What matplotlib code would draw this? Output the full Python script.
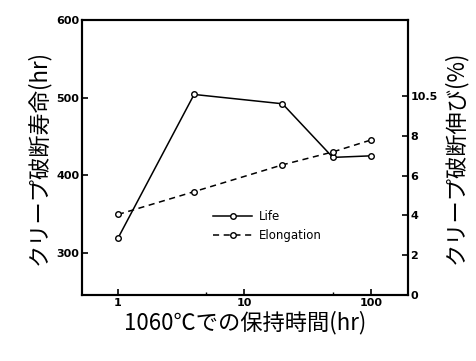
import matplotlib.pyplot as plt
from matplotlib.ticker import FixedLocator, NullFormatter

plt.rcParams['font.family'] = ['Noto Sans CJK JP', 'DejaVu Sans']

hold_time = [1, 4, 20, 50, 100]
life = [319, 504, 492, 423, 425]
elongation = [4.05, 5.2, 6.55, 7.2, 7.8]

left_ticks = [300, 400, 500, 600]
right_ticks = [0, 2, 4, 6, 8, 10]
right_labels = ['0', '2', '4', '6', '8', '10.5']

fig = plt.figure(figsize=(4.77, 3.61), dpi=100)
ax = fig.add_axes([0.172, 0.183, 0.683, 0.762])
ax2 = ax.twinx()

mk = dict(marker='o', markersize=4, markerfacecolor='white', markeredgecolor='black', markeredgewidth=1)
l1, = ax.plot(hold_time, life, '-', color='black', lw=1.1, label='Life', **mk)
l2, = ax2.plot(hold_time, elongation, '--', color='black', lw=1.1, label='Elongation', dashes=(4, 3), **mk)

ax.set_xscale('log')
ax.set_xlim(0.52, 196)
ax.set_ylim(246, 600)
ax2.set_ylim(0, 13.85)

ax.xaxis.set_major_locator(FixedLocator([1, 10, 100]))
ax.set_xticklabels(['1', '10', '100'])
ax.xaxis.set_minor_locator(FixedLocator([5, 50]))
ax.xaxis.set_minor_formatter(NullFormatter())
ax.set_yticks(left_ticks)
ax2.set_yticks(right_ticks)
ax2.set_yticklabels(right_labels)

for a in (ax, ax2):
    a.tick_params(direction='in', length=4, width=1.2, labelsize=8, pad=2)
    a.tick_params(which='minor', direction='in', length=2, width=1)
    for s in a.spines.values():
        s.set_linewidth(1.5)
for lab in ax.get_xticklabels() + ax.get_yticklabels() + ax2.get_yticklabels():
    lab.set_fontweight('bold')
    lab.set_family('DejaVu Sans')

ax.set_xlabel('1060℃での保持時間(hr)', fontsize=16, labelpad=2)
ax.set_ylabel('クリープ破断寿命(hr)', fontsize=16, labelpad=4)
ax2.set_ylabel('クリープ破断伸び(%)', fontsize=16, labelpad=4)

ax.legend([l1, l2], ['Life', 'Elongation'], loc='center', bbox_to_anchor=(0.57, 0.25),
          frameon=False, handlelength=3.3, handletextpad=0.6, labelspacing=0.5,
          prop={'family': 'DejaVu Sans', 'size': 8.5})

fig.savefig('out.png', dpi=100)
